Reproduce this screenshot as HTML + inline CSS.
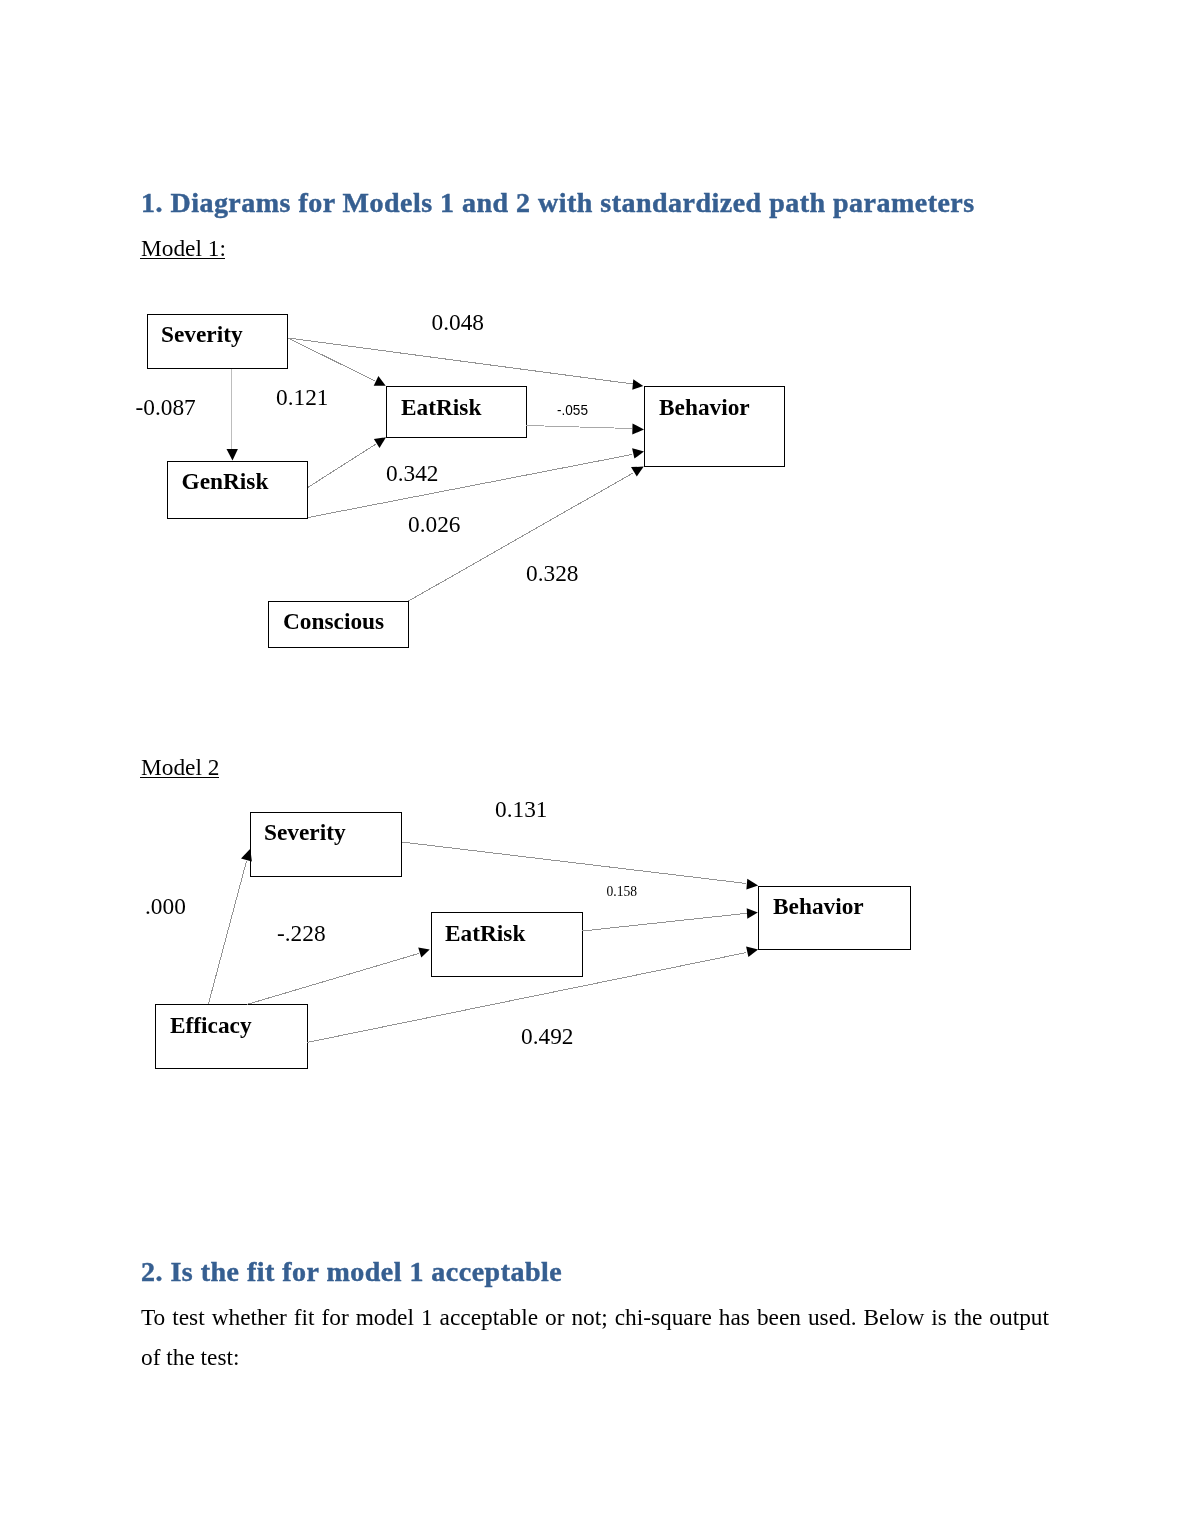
<!DOCTYPE html>
<html><head><meta charset="utf-8">
<style>
html,body{margin:0;padding:0;background:#fff;}
body{width:1190px;height:1540px;position:relative;overflow:hidden;font-family:"Liberation Serif",serif;}
svg{position:absolute;left:0;top:0;will-change:transform;}
.p{will-change:transform;}
.h{font-family:"Liberation Serif",serif;font-weight:bold;fill:#365F91;stroke:#365F91;stroke-width:0.45px;}
.b{font-weight:bold;font-size:23.33px;fill:#000;}
.n{font-size:23.33px;fill:#000;}
.s{font-size:14px;fill:#000;}
.ss{font-family:"Liberation Sans",sans-serif;font-size:15px;fill:#000;}
.p{position:absolute;left:141px;width:908px;font-size:23.33px;line-height:40px;color:#000;text-align:justify;}
</style></head><body>
<svg width="1190" height="1540" viewBox="0 0 1190 1540">
<defs>

</defs>
<text class="h" x="141" y="211.5" font-size="28" letter-spacing="0.48">1. Diagrams for Models 1 and 2 with standardized path parameters</text>
<text class="n" x="141" y="256">Model 1:</text>
<line x1="140" y1="258.5" x2="225" y2="258.5" stroke="#000" stroke-width="1"/>

<!-- Model 1 boxes -->
<g fill="none" stroke="#000" stroke-width="1" shape-rendering="crispEdges">
<rect x="147.5" y="314.5" width="140" height="54"/>
<rect x="386.5" y="386.5" width="140" height="51"/>
<rect x="644.5" y="386.5" width="140" height="80"/>
<rect x="167.5" y="461.5" width="140" height="57"/>
<rect x="268.5" y="601.5" width="140" height="46"/>
</g>
<g stroke="#939393" stroke-width="1" fill="none" shape-rendering="crispEdges">
<line x1="288" y1="338" x2="633" y2="384"/>
<line x1="288" y1="338" x2="375" y2="381"/>
<line x1="231.5" y1="369" x2="231.5" y2="449" stroke="#bdbdbd"/>
<line x1="307.6" y1="487.6" x2="376" y2="444"/>
<line x1="526.5" y1="425.5" x2="632" y2="428.5" stroke="#a8a8a8"/>
<line x1="307.6" y1="517.6" x2="632" y2="454.5"/>
<line x1="408.6" y1="601" x2="633" y2="473"/>
</g>
<g fill="#000" stroke="none">
<polygon points="373.7,385.8 385.7,385.8 378.4,376"/>
<polygon points="373.9,439.1 386,437.3 379.5,448"/>
<polygon points="226.5,449.1 237.9,449.1 232.5,460.6"/>
<polygon points="633.3,379.2 632.3,389.7 643.2,386.1"/>
<polygon points="632.5,423.6 632.3,434.5 644,429.4"/>
<polygon points="632.1,448.3 634.4,458.6 644,451.4"/>
<polygon points="631,467.1 643.7,466.6 636.8,476.5"/>
</g>
<text class="b" x="161" y="342">Severity</text>
<text class="b" x="401" y="415">EatRisk</text>
<text class="b" x="659" y="415">Behavior</text>
<text class="b" x="181.5" y="489">GenRisk</text>
<text class="b" x="283" y="629">Conscious</text>
<text class="n" x="431.5" y="330">0.048</text>
<text class="n" x="135.5" y="414.5">-0.087</text>
<text class="n" x="276" y="404.5">0.121</text>
<text class="ss" x="557" y="415" style="font-size:15.5px" textLength="31" lengthAdjust="spacingAndGlyphs">-.055</text>
<text class="n" x="386" y="480.5">0.342</text>
<text class="n" x="408" y="532">0.026</text>
<text class="n" x="526" y="580.5">0.328</text>

<text class="n" x="141" y="775">Model 2</text>
<line x1="140" y1="777.5" x2="219" y2="777.5" stroke="#000" stroke-width="1"/>

<g fill="none" stroke="#000" stroke-width="1" shape-rendering="crispEdges">
<rect x="250.5" y="812.5" width="151" height="64"/>
<rect x="431.5" y="912.5" width="151" height="64"/>
<rect x="758.5" y="886.5" width="152" height="63"/>
<rect x="155.5" y="1004.5" width="152" height="64"/>
</g>
<g stroke="#939393" stroke-width="1" fill="none" shape-rendering="crispEdges">
<line x1="208.3" y1="1004.4" x2="246.5" y2="861"/>
<line x1="401.8" y1="842" x2="746.5" y2="883.5"/>
<line x1="247" y1="1004.4" x2="419" y2="953.4"/>
<line x1="582.4" y1="931" x2="746.7" y2="913.3"/>
<line x1="307.3" y1="1042.4" x2="746.5" y2="952.5"/>
</g>
<g fill="#000" stroke="none">
<polygon points="250.3,848.8 241,858.5 251.9,861.5"/>
<polygon points="747.3,878.8 746.4,889.6 758.1,885.5"/>
<polygon points="418.2,947.4 429.7,949.4 421.3,957.6"/>
<polygon points="746.7,908.3 747.3,918.8 757.8,912.4"/>
<polygon points="746.1,946.6 748.4,957.1 758.1,949.5"/>
</g>
<text class="b" x="264" y="840">Severity</text>
<text class="b" x="445" y="941">EatRisk</text>
<text class="b" x="773" y="914">Behavior</text>
<text class="b" x="170" y="1033">Efficacy</text>
<text class="n" x="495" y="817">0.131</text>
<text class="s" x="606.5" y="896" style="font-size:13.8px" textLength="30.5" lengthAdjust="spacingAndGlyphs">0.158</text>
<text class="n" x="145" y="914">.000</text>
<text class="n" x="277" y="941">-.228</text>
<text class="n" x="521" y="1044">0.492</text>

<text class="h" x="141" y="1281" font-size="28" letter-spacing="0.48">2. Is the fit for model 1 acceptable</text>
</svg>
<div class="p" style="top:1297px;text-align-last:justify;">To test whether fit for model 1 acceptable or not; chi-square has been used. Below is the output</div>
<div class="p" style="top:1337px;">of the test:</div>
</body></html>
